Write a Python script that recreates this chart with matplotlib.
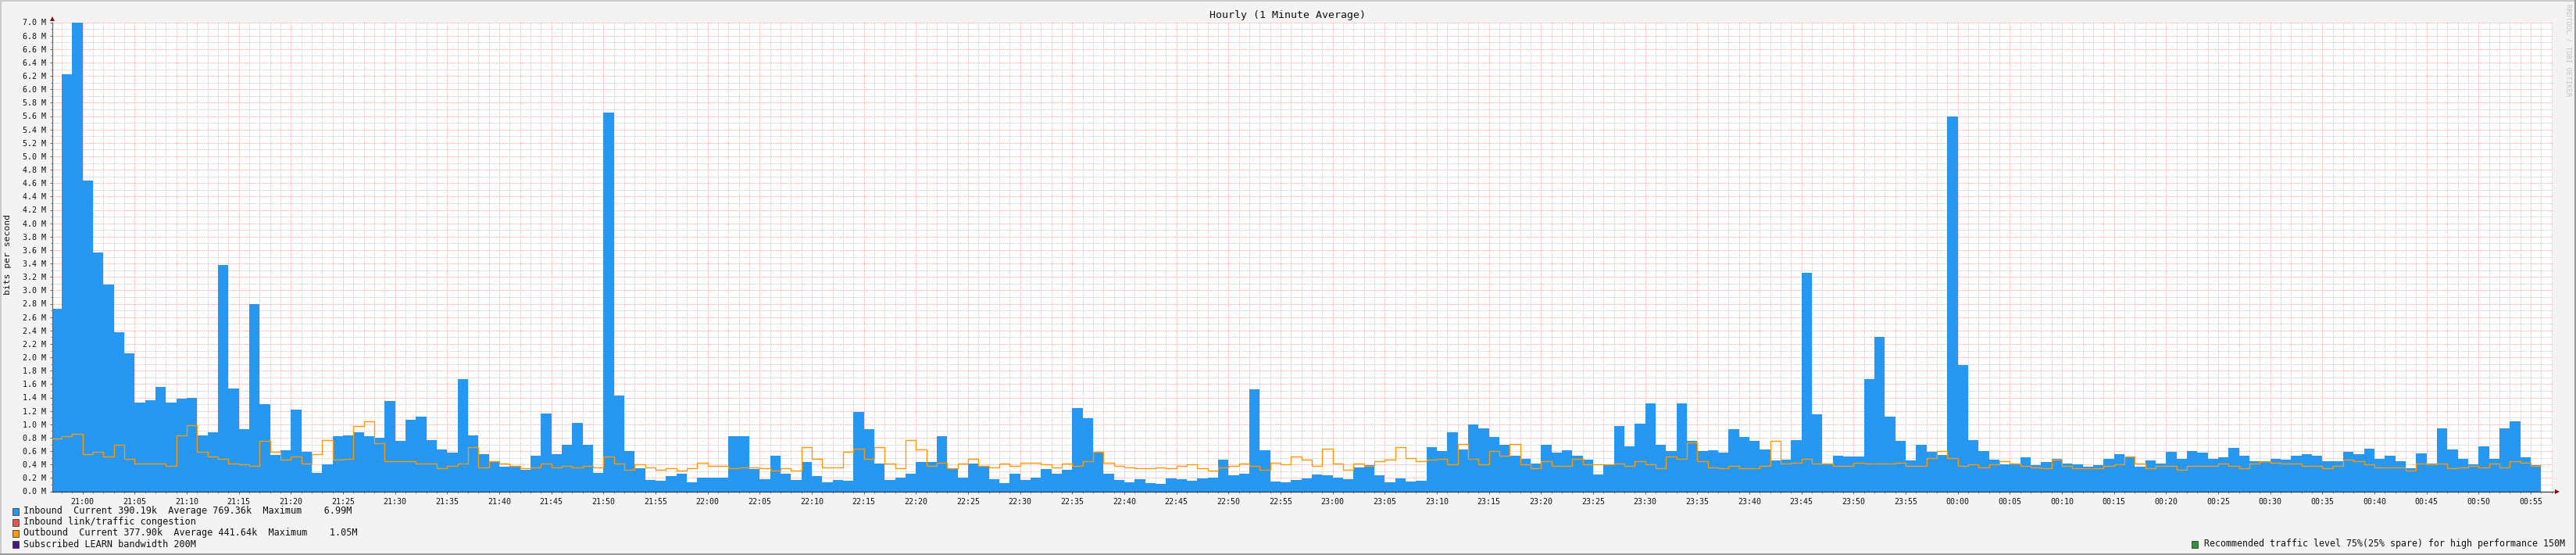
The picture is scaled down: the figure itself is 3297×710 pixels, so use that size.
import matplotlib
matplotlib.use("Agg")
import matplotlib.pyplot as plt
import matplotlib.patches as mpatches
import numpy as np

W, H = 3297, 710
plt.rcParams['font.family'] = ['DejaVu Sans Mono']

# values in Mbit/s, one per minute, starting 3 minutes before 21:00
inbound = [
    2.72, 6.22, 6.99, 4.64, 3.57, 3.09, 2.38, 2.06, 1.33, 1.36, 1.56, 1.32, 1.38, 1.40, 0.84, 0.88,
    3.38, 1.53, 0.925, 2.80, 1.30, 0.54, 0.61, 1.22, 0.59, 0.27, 0.40, 0.82, 0.84, 0.88, 0.82, 0.80,
    1.35, 0.75, 1.07, 1.12, 0.77,
    0.63, 0.575, 1.68, 0.83, 0.56, 0.435, 0.365, 0.38, 0.32, 0.53, 1.16, 0.56, 0.69, 1.02, 0.70, 0.28,
    5.65, 1.43, 0.60, 0.34, 0.17, 0.155, 0.225, 0.26, 0.13, 0.21, 0.21, 0.21, 0.82, 0.82, 0.33, 0.18,
    0.53, 0.26, 0.17, 0.435, 0.225, 0.13, 0.17, 0.155, 1.18, 0.925,
    0.41, 0.17, 0.20, 0.26, 0.435, 0.435, 0.82, 0.34, 0.21, 0.41, 0.365, 0.18, 0.12, 0.26, 0.17, 0.21,
    0.33, 0.26, 0.32, 1.24, 1.09, 0.595, 0.26, 0.17, 0.13, 0.18, 0.12, 0.11, 0.19, 0.18, 0.155, 0.19,
    0.21, 0.47, 0.24, 0.26, 1.52, 0.61, 0.145, 0.13, 0.17, 0.19,
    0.25, 0.24, 0.21, 0.18, 0.355, 0.39, 0.24, 0.13, 0.19, 0.145, 0.155, 0.66, 0.60, 0.88, 0.62, 1.00,
    0.94, 0.81, 0.69, 0.53, 0.49, 0.41, 0.69, 0.575, 0.61, 0.53, 0.47, 0.25, 0.39, 0.97, 0.67, 1.01,
    1.31, 0.69, 0.60, 1.31, 0.75, 0.60, 0.61, 0.575, 0.925, 0.81,
    0.75, 0.62, 0.46, 0.47, 0.76, 3.26, 1.15, 0.41, 0.53, 0.52, 0.52, 1.68, 2.31, 1.11, 0.75, 0.46,
    0.69, 0.59, 0.54, 5.59, 1.88, 0.77, 0.60, 0.47, 0.40, 0.42, 0.505, 0.39, 0.435, 0.48, 0.42, 0.40,
    0.365, 0.39, 0.49, 0.55, 0.52, 0.365, 0.46, 0.42,
    0.59, 0.48, 0.60, 0.575, 0.48, 0.505, 0.645, 0.53, 0.45, 0.45, 0.49, 0.47, 0.53, 0.55, 0.53, 0.45,
    0.45, 0.59, 0.55, 0.635, 0.49, 0.53, 0.45, 0.34, 0.565, 0.41, 0.94, 0.62, 0.48, 0.40, 0.67, 0.48,
    0.94, 1.04, 0.505, 0.39,
]
outbound = [
    0.79, 0.82, 0.86, 0.56, 0.585, 0.525, 0.69, 0.49, 0.42, 0.41, 0.42, 0.385, 0.83, 0.99, 0.585, 0.515,
    0.49, 0.42, 0.40, 0.375, 0.75, 0.585, 0.47, 0.525, 0.41, 0.56, 0.76, 0.47, 0.48, 0.98, 1.05, 0.72,
    0.455, 0.445, 0.445, 0.41, 0.42,
    0.35, 0.375, 0.41, 0.665, 0.36, 0.445, 0.41, 0.385, 0.35, 0.36, 0.41, 0.36, 0.375, 0.36, 0.385, 0.36,
    0.525, 0.41, 0.325, 0.40, 0.36, 0.325, 0.35, 0.315, 0.34, 0.43, 0.385, 0.375, 0.34, 0.36, 0.36, 0.34,
    0.315, 0.35, 0.315, 0.665, 0.49, 0.36, 0.36, 0.585, 0.64, 0.48,
    0.665, 0.41, 0.35, 0.77, 0.63, 0.375, 0.43, 0.35, 0.41, 0.48, 0.375, 0.36, 0.41, 0.385, 0.43, 0.43,
    0.40, 0.36, 0.42, 0.385, 0.455, 0.595, 0.43, 0.385, 0.36, 0.35, 0.35, 0.36, 0.35, 0.385, 0.40, 0.35,
    0.305, 0.36, 0.375, 0.41, 0.385, 0.325, 0.43, 0.40, 0.525, 0.47,
    0.375, 0.64, 0.42, 0.325, 0.41, 0.375, 0.455, 0.47, 0.655, 0.50, 0.455, 0.47, 0.48, 0.40, 0.71, 0.49,
    0.40, 0.605, 0.535, 0.71, 0.40, 0.35, 0.445, 0.385, 0.375, 0.49, 0.40, 0.40, 0.40, 0.41, 0.385, 0.455,
    0.40, 0.34, 0.525, 0.48, 0.735, 0.445, 0.36, 0.35, 0.375, 0.35,
    0.35, 0.385, 0.75, 0.42, 0.43, 0.48, 0.41, 0.42, 0.375, 0.385, 0.43, 0.41, 0.41, 0.41, 0.43, 0.375,
    0.375, 0.50, 0.605, 0.50, 0.375, 0.40, 0.36, 0.40, 0.445, 0.41, 0.375, 0.36, 0.34, 0.47, 0.385, 0.35,
    0.35, 0.35, 0.385, 0.40, 0.525, 0.41, 0.34, 0.385,
    0.385, 0.325, 0.385, 0.375, 0.375, 0.41, 0.385, 0.34, 0.42, 0.455, 0.43, 0.41, 0.41, 0.375, 0.385, 0.34,
    0.375, 0.47, 0.455, 0.40, 0.36, 0.36, 0.36, 0.305, 0.41, 0.40, 0.42, 0.35, 0.36, 0.375, 0.36, 0.41,
    0.36, 0.455, 0.43, 0.378,
]
time_labels = [
    "21:00", "21:05", "21:10", "21:15", "21:20", "21:25", "21:30", "21:35", "21:40", "21:45", "21:50", "21:55",
    "22:00", "22:05", "22:10", "22:15", "22:20", "22:25", "22:30", "22:35", "22:40", "22:45", "22:50", "22:55",
    "23:00", "23:05", "23:10", "23:15", "23:20", "23:25", "23:30", "23:35", "23:40", "23:45", "23:50", "23:55",
    "00:00", "00:05", "00:10", "00:15", "00:20", "00:25", "00:30", "00:35", "00:40", "00:45", "00:50", "00:55",
]
legend_left = [
    ("Inbound  Current 390.19k  Average 769.36k  Maximum    6.99M", "#2196F3"),
    ("Inbound link/traffic congestion", "#EF5350"),
    ("Outbound  Current 377.90k  Average 441.64k  Maximum    1.05M", "#FF9800"),
    ("Subscribed LEARN bandwidth 200M", "#4A148C"),
]
legend_right = ("Recommended traffic level 75%(25% spare) for high performance 150M", "#388E3C")

def fx(px):
    return px / W
def fy(py):
    return 1 - py / H

fig = plt.figure(figsize=(W / 100, H / 100), dpi=100, facecolor="#F3F3F3")
ax = fig.add_axes([fx(67), fy(628.5), 3200 / W, 600 / H])

edges = np.arange(len(inbound) + 1) - 3

ax.set_xlim(-2.9, 237.1)
ax.set_ylim(0, 7.0)
ax.set_xticks(np.arange(len(time_labels)) * 5)
ax.set_xticklabels(time_labels, fontsize=7.2, color="#111111")
ax.set_xticks(np.arange(-2, 238), minor=True)
ax.set_yticks(np.arange(36) * 0.2)
ax.set_yticklabels(["%.1f M" % v for v in np.arange(36) * 0.2], fontsize=7.2, color="#111111")
ax.set_yticks(np.arange(71) * 0.1, minor=True)
ax.tick_params(axis="both", which="major", length=2.5, width=0.7, color="#666666", pad=3)
ax.tick_params(axis="both", which="minor", length=1.5, width=0.7, color="#888888")
ax.tick_params(axis="x", which="major", pad=3.5)

# grid sits under the area, the area is slightly see-through so it shows faintly
ax.set_axisbelow(True)
ax.grid(True, which="minor", color="#C4C4C4", linestyle=(0, (1, 1.2)), linewidth=0.72)
ax.grid(True, which="major", color="#FF9C9C", linestyle=(0, (1, 1.2)), linewidth=0.72)
ax.stairs(inbound, edges, fill=True, color="#1A93F2", alpha=0.95, linewidth=0, zorder=2)
ax.stairs(outbound, edges, color="#FF9800", linewidth=1.0, baseline=None, zorder=4)

for side in ["top", "right"]:
    ax.spines[side].set_visible(False)
ax.spines["left"].set_color("#666666")
ax.spines["left"].set_linewidth(0.9)
ax.spines["bottom"].set_color("#2F3B4C")
ax.spines["bottom"].set_linewidth(0.9)

# axis arrow heads, as rrdtool draws them
ax.plot([1.0, 1.002], [0.0, 0.0], color="#666666", linewidth=0.9, transform=ax.transAxes, clip_on=False, zorder=5)
ax.plot([1.002], [0.0], marker=">", ms=4.5, color="#7B1113", mew=0, transform=ax.transAxes, clip_on=False, zorder=5)
ax.plot([0.0], [1.0075], marker="^", ms=4.5, color="#7B1113", mew=0, transform=ax.transAxes, clip_on=False, zorder=5)

fig.text(fx(1648), fy(19), "Hourly (1 Minute Average)", ha="center", va="center", fontsize=9.5, color="#111111")
fig.text(fx(10.5), fy(325), "bits per second", rotation=90, ha="center", va="center", fontsize=8.2, color="#111111")
fig.text(fx(3287), fy(5), "RRDTOOL / TOBI OETIKER", rotation=270, ha="center", va="top", fontsize=6.5, color="#C4C4C4")

rows = [654, 668, 682, 696]
for (label, col), y in zip(legend_left, rows):
    fig.add_artist(mpatches.Rectangle((fx(15.5), fy(y + 4.5)), 8 / W, 9 / H, facecolor=col, edgecolor="#222222", linewidth=0.5, transform=fig.transFigure))
    fig.text(fx(30), fy(y), label, ha="left", va="center", fontsize=8.5, color="#111111")
fig.add_artist(mpatches.Rectangle((fx(2805), fy(700.5)), 8 / W, 9 / H, facecolor=legend_right[1], edgecolor="#222222", linewidth=0.5, transform=fig.transFigure))
fig.text(fx(3283), fy(696), legend_right[0], ha="right", va="center", fontsize=8.35, color="#111111")

# image border, lighter top and left, darker bottom and right
fig.add_artist(plt.Line2D([0, 1], [fy(1), fy(1)], color="#CBCBCB", linewidth=1.5, transform=fig.transFigure))
fig.add_artist(plt.Line2D([fx(1), fx(1)], [0, 1], color="#CBCBCB", linewidth=1.5, transform=fig.transFigure))
fig.add_artist(plt.Line2D([0, 1], [fy(709), fy(709)], color="#999999", linewidth=1.5, transform=fig.transFigure))
fig.add_artist(plt.Line2D([fx(3296), fx(3296)], [0, 1], color="#999999", linewidth=1.5, transform=fig.transFigure))

fig.savefig("out.png", dpi=100, facecolor=fig.get_facecolor())
